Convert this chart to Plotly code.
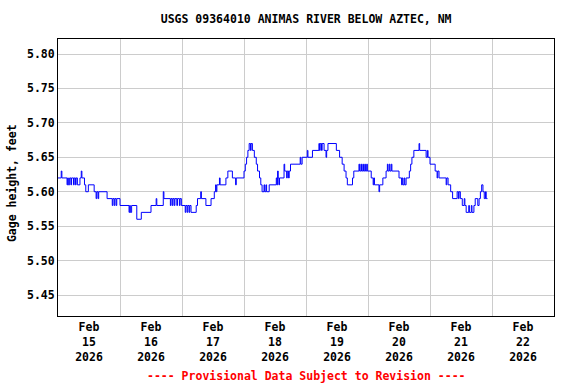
import pandas as pd
import plotly.graph_objects as go

# Hours since 2026-02-15 00:00 (change points of the 15-min record) and gage height, feet
hours = [
    0.0, 1.25, 1.5, 3.5, 3.75, 4.0, 4.5, 5.0, 5.25, 6.0, 6.25, 6.75, 7.0, 7.5, 8.5, 9.0, 9.25,
    10.25, 10.75, 11.75, 14.0, 14.75, 15.0, 15.5, 15.75, 19.0, 21.0, 21.25, 21.75, 22.0, 22.5,
    22.75, 24.0, 27.5, 27.75, 28.0, 28.5, 30.5, 32.25, 36.0, 38.0, 38.25, 40.75, 41.0, 43.5,
    43.75, 44.25, 44.5, 45.0, 45.25, 46.0, 46.25, 47.0, 47.25, 47.75, 49.25, 49.5, 50.0, 50.25,
    50.75, 51.0, 51.5, 53.5, 54.0, 55.25, 55.5, 57.25, 59.25, 60.5, 61.0, 61.25, 61.5, 62.5,
    62.75, 65.0, 65.75, 67.5, 68.75, 69.0, 72.0, 72.5, 73.0, 73.5, 74.0, 74.5, 74.75, 75.25,
    76.0, 76.75, 77.25, 78.0, 78.5, 79.0, 79.75, 80.0, 80.5, 80.75, 81.75, 84.5, 84.75, 85.0,
    85.25, 85.5, 85.75, 87.5, 87.75, 88.5, 88.75, 89.25, 89.5, 90.0, 93.75, 94.0, 94.5, 96.5,
    96.75, 98.5, 101.0, 101.25, 101.5, 102.0, 102.25, 103.0, 103.75, 104.0, 104.5, 107.75,
    109.0, 110.0, 110.75, 111.5, 112.0, 114.0, 114.5, 116.5, 116.75, 117.25, 117.5, 118.0,
    118.25, 118.75, 119.0, 119.5, 119.75, 121.25, 122.0, 122.25, 122.5, 124.25, 124.5, 125.75,
    127.0, 127.5, 127.75, 128.25, 128.5, 129.0, 129.25, 132.0, 133.0, 133.25, 133.5, 134.0,
    134.25, 134.75, 136.0, 136.5, 137.0, 137.75, 139.75, 140.0, 142.5, 143.0, 143.25, 144.0,
    146.0, 146.75, 147.0, 147.5, 150.25, 150.5, 151.0, 152.0, 152.75, 154.5, 155.0, 155.25,
    155.75, 156.5, 157.25, 157.5, 158.0, 159.0, 159.25, 160.0, 160.25, 161.0, 161.5, 162.5,
    163.0, 163.5, 164.0, 164.5, 165.0, 165.5, 165.75, 166.25,
]
gage_ft = [
    5.62, 5.63, 5.62, 5.61, 5.62, 5.61, 5.62, 5.61, 5.62, 5.61, 5.62, 5.61, 5.62, 5.61, 5.62, 5.63, 5.62,
    5.61, 5.60, 5.61, 5.60, 5.59, 5.60, 5.59, 5.60, 5.59, 5.58, 5.59, 5.58, 5.59, 5.58,
    5.59, 5.58, 5.57, 5.58, 5.57, 5.58, 5.56, 5.57, 5.58, 5.59, 5.58, 5.60, 5.59, 5.58,
    5.59, 5.58, 5.59, 5.58, 5.59, 5.58, 5.59, 5.58, 5.59, 5.58, 5.57, 5.58, 5.57, 5.58,
    5.57, 5.58, 5.57, 5.58, 5.59, 5.60, 5.59, 5.58, 5.59, 5.60, 5.61, 5.60, 5.61, 5.62,
    5.61, 5.62, 5.63, 5.62, 5.61, 5.62, 5.63, 5.64, 5.65, 5.66, 5.67, 5.66, 5.67, 5.66,
    5.65, 5.64, 5.63, 5.62, 5.61, 5.60, 5.61, 5.60, 5.61, 5.60, 5.61, 5.62, 5.61, 5.63,
    5.62, 5.61, 5.62, 5.64, 5.63, 5.62, 5.63, 5.62, 5.63, 5.64, 5.65, 5.64, 5.65, 5.66,
    5.65, 5.66, 5.67, 5.66, 5.67, 5.66, 5.67, 5.66, 5.65, 5.66, 5.67, 5.66,
    5.65, 5.64, 5.63, 5.62, 5.61, 5.62, 5.63, 5.64, 5.63, 5.64, 5.63, 5.64,
    5.63, 5.64, 5.63, 5.64, 5.63, 5.62, 5.61, 5.62, 5.61, 5.60, 5.61, 5.62,
    5.63, 5.64, 5.63, 5.64, 5.63, 5.64, 5.63, 5.62, 5.61, 5.62, 5.61, 5.62,
    5.61, 5.62, 5.63, 5.64, 5.65, 5.66, 5.67, 5.66, 5.65, 5.66, 5.65, 5.64,
    5.63, 5.62, 5.63, 5.62, 5.61, 5.62, 5.61, 5.60, 5.59, 5.60, 5.59, 5.60,
    5.59, 5.58, 5.59, 5.58, 5.57, 5.58, 5.57, 5.58, 5.57, 5.58, 5.59, 5.58,
    5.59, 5.60, 5.61, 5.60, 5.59, 5.60, 5.59, 5.59,
]

start = pd.Timestamp("2026-02-15 00:00")
times = [start + pd.Timedelta(hours=h) for h in hours]

day_labels = ["15", "16", "17", "18", "19", "20", "21", "22"]
label_times = [start + pd.Timedelta(days=i, hours=12) for i in range(len(day_labels))]
label_text = [f"Feb<br>{d}<br>2026" for d in day_labels]
midnights = [start + pd.Timedelta(days=i) for i in range(9)]

y_ticks = [5.45, 5.50, 5.55, 5.60, 5.65, 5.70, 5.75, 5.80]

FONT = "DejaVu Sans Mono"

fig = go.Figure()
fig.add_trace(go.Scatter(
    x=times, y=gage_ft, mode="lines", line=dict(color="#0000ff", width=1, shape="hv"),
    showlegend=False, hoverinfo="skip",
))

fig.update_layout(
    width=576, height=384,
    margin=dict(l=58, r=22, t=39, b=68),
    paper_bgcolor="white", plot_bgcolor="white",
    font=dict(family=FONT, size=11.5, color="black"),
    title=dict(text="<b>USGS 09364010 ANIMAS RIVER BELOW AZTEC, NM</b>",
               x=0.5315, xanchor="center", y=0.9505, yanchor="middle",
               font=dict(family=FONT, size=11.5, color="black")),
    annotations=[
        dict(text="<b>---- Provisional Data Subject to Revision ----</b>",
             xref="paper", yref="paper", x=0.5, y=-0.215, xanchor="center", yanchor="middle",
             showarrow=False, font=dict(family=FONT, size=11.5, color="#ff0000")),
        dict(text="<b>Gage height, feet</b>", textangle=-90,
             xref="paper", yref="paper", x=-0.0927, y=0.48, xanchor="center", yanchor="middle",
             showarrow=False, font=dict(family=FONT, size=11.5, color="black")),
    ],
)

fig.update_xaxes(
    range=[midnights[0], midnights[-1]],
    tickmode="array", tickvals=label_times, ticktext=[f"<b>{t}</b>" for t in label_text],
    showgrid=False, ticks="", showline=True, linecolor="black", linewidth=1, mirror=True,
    zeroline=False,
    tickfont=dict(family=FONT, size=11.5, color="black"),
    minor=dict(tickmode="array", tickvals=midnights, showgrid=True,
               gridcolor="#cccccc", gridwidth=1, ticks=""),
)
fig.update_yaxes(
    range=[5.4195, 5.8218], tickmode="array",
    tickvals=y_ticks, ticktext=["<b>%.2f</b>" % v for v in y_ticks],
    showgrid=True, gridcolor="#cccccc", gridwidth=1, ticks="",
    showline=True, linecolor="black", linewidth=1, mirror=True, zeroline=False,
    tickfont=dict(family=FONT, size=11.5, color="black"),
)

fig.write_html("out.html", config={"displayModeBar": False},
               post_script="document.body.style.margin='0px';")
